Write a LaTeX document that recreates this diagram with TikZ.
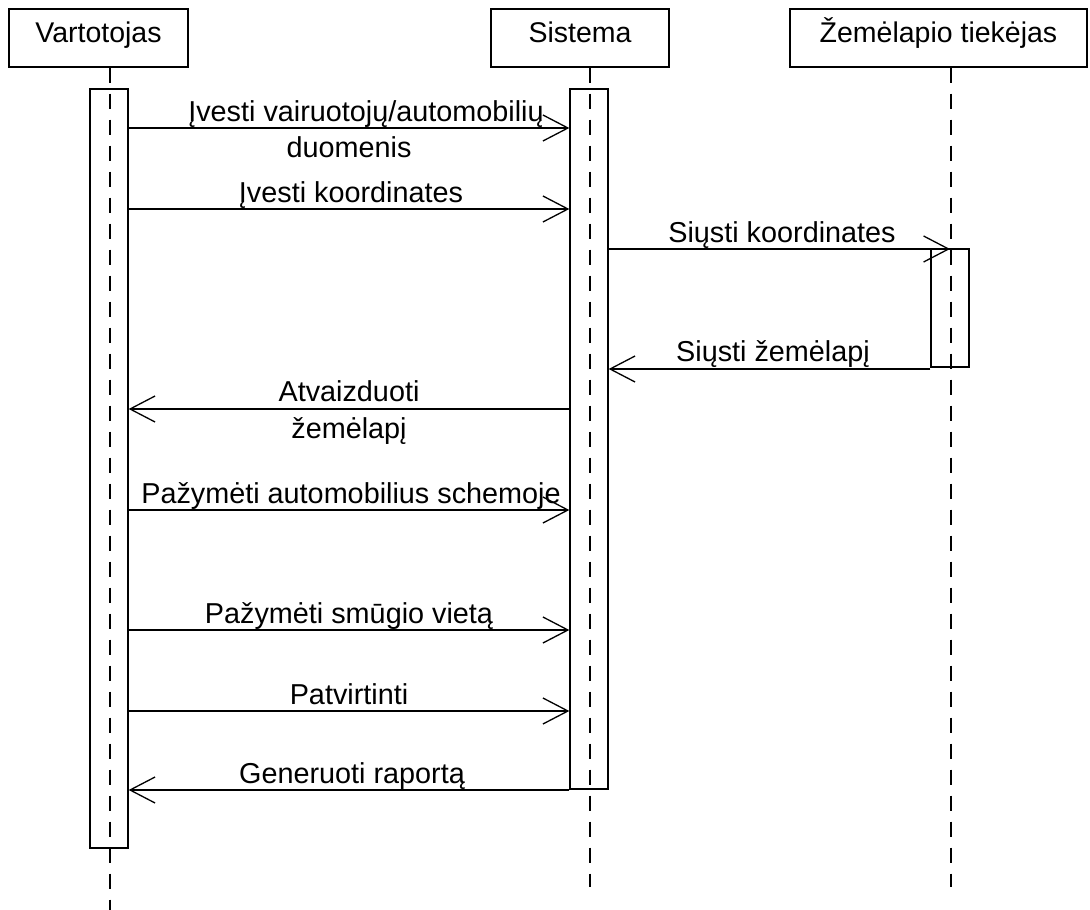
\documentclass[tikz,border=0pt]{standalone}
\usepackage{fontspec}
\setmainfont{Liberation Sans}
\usetikzlibrary{arrows.meta}
\begin{document}
\begin{tikzpicture}[x=1pt,y=-1pt,line width=1.3pt,
  lbl/.style={font=\fontsize{28.8}{34}\selectfont, anchor=base, inner sep=0pt},
  headbox/.style={draw, font=\fontsize{28.5}{34}\selectfont, minimum height=58pt, text height=19pt, text depth=11pt, inner sep=0pt},
  actbox/.style={draw, minimum width=38pt, inner sep=0pt},
  lifeline/.style={dash pattern=on 15pt off 11pt, line width=1.5pt},
  msg/.style={-{Straight Barb[length=25pt,width=26pt,line width=1.3pt]}}]
\useasboundingbox (0,0) rectangle (1090,910);
% headers
\node[headbox, minimum width=179pt] (hV) at (98.5,38) {Vartotojas};
\node[headbox, minimum width=178pt] (hS) at (580,38) {Sistema};
\node[headbox, minimum width=297pt] (hZ) at (938.5,38) {Žemėlapio tiekėjas};
% lifeline ends
\coordinate (eV) at (110,910);
\coordinate (eS) at (590,887);
\coordinate (eZ) at (951,887);
\draw[lifeline] (hV.south -| eV) -- (eV);
\draw[lifeline] (hS.south -| eS) -- (eS);
\draw[lifeline] (hZ.south -| eZ) -- (eZ);
% activation boxes
\node[actbox, minimum height=759pt] (aV) at (109,468.5) {};
\node[actbox, minimum height=700pt] (aS) at (589,439) {};
\node[actbox, minimum height=118pt] (aZ) at (950,308) {};
% message rows
\coordinate (y1) at (0,128);
\coordinate (y2) at (0,209);
\coordinate (y3) at (0,249);
\coordinate (y4) at (0,369);
\coordinate (y5) at (0,409);
\coordinate (y6) at (0,510);
\coordinate (y7) at (0,630);
\coordinate (y8) at (0,711);
\coordinate (y9) at (0,790);
% messages
\draw[msg] (aV.east |- y1) -- (aS.west |- y1);
\node[lbl] (l1a) at (366,121) {Įvesti vairuotojų/automobilių};
\node[lbl] (l1b) at (349,157) {duomenis};
\draw[msg] (aV.east |- y2) -- (aS.west |- y2);
\node[lbl] (l2) at (351,202) {Įvesti koordinates};
\draw[msg] (aS.east |- y3) -- (aZ.north |- y3);
\node[lbl] (l3) at (782,242) {Siųsti koordinates};
\draw[msg] (aZ.west |- y4) -- (aS.east |- y4);
\node[lbl] (l4) at (773,361) {Siųsti žemėlapį};
\draw[msg] (aS.west |- y5) -- (aV.east |- y5);
\node[lbl] (l5a) at (349,401) {Atvaizduoti};
\node[lbl] (l5b) at (349,438) {žemėlapį};
\draw[msg] (aV.east |- y6) -- (aS.west |- y6);
\node[lbl] (l6) at (351,503) {Pažymėti automobilius schemoje};
\draw[msg] (aV.east |- y7) -- (aS.west |- y7);
\node[lbl] (l7) at (349,623) {Pažymėti smūgio vietą};
\draw[msg] (aV.east |- y8) -- (aS.west |- y8);
\node[lbl] (l8) at (349,704) {Patvirtinti};
\draw[msg] (aS.west |- y9) -- (aV.east |- y9);
\node[lbl] (l9) at (352,783) {Generuoti raportą};
\end{tikzpicture}
\end{document}
